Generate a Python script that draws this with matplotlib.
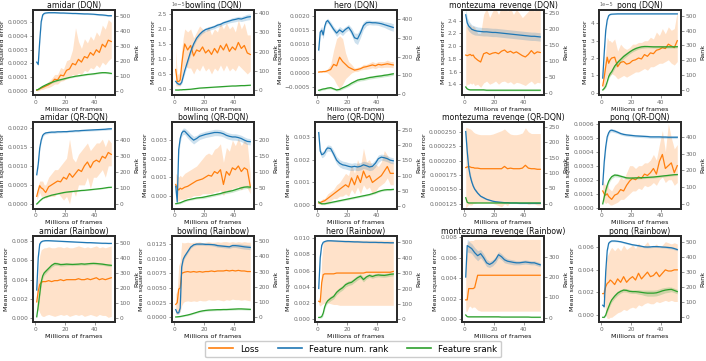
import numpy as np
import matplotlib
matplotlib.use("Agg")
import matplotlib.pyplot as plt
from matplotlib.lines import Line2D

# ---------------- data ----------------
X = [1, 2, 3, 4, 5, 6, 7, 9, 11, 13, 15, 17, 19, 21, 23, 25, 27, 29, 31, 33, 35, 37, 39, 41, 43, 45, 47, 49, 51]

titles = ["amidar (DQN)", "bowling (DQN)", "hero (DQN)", "montezuma_revenge (DQN)", "pong (DQN)",
          "amidar (QR-DQN)", "bowling (QR-DQN)", "hero (QR-DQN)", "montezuma_revenge (QR-DQN)", "pong (QR-DQN)",
          "amidar (Rainbow)", "bowling (Rainbow)", "hero (Rainbow)", "montezuma_revenge (Rainbow)", "pong (Rainbow)"]

# ---- DQN ----
amidar_dqn_loss = np.array([0.05, 0.1, 0.15, 0.2, 0.25, 0.3, 0.35, 0.45, 0.6, 0.85, 0.8, 1.15, 1.1, 1.5, 1.6, 2.0, 1.9, 2.3, 2.1, 2.5, 2.4, 2.8, 2.6, 3.0, 2.8, 3.4, 3.2, 3.7, 3.6]) * 1e-4
amidar_dqn_lo = np.array([0.0, 0.0, 0.05, 0.1, 0.1, 0.15, 0.2, 0.25, 0.35, 0.5, 0.5, 0.7, 0.75, 0.9, 1.0, 1.2, 1.1, 1.3, 1.2, 1.5, 1.4, 1.7, 1.6, 1.9, 1.7, 2.1, 1.9, 2.2, 2.4]) * 1e-4
amidar_dqn_hi = np.array([0.1, 0.2, 0.25, 0.3, 0.4, 0.45, 0.5, 0.7, 0.9, 1.2, 1.2, 1.7, 1.6, 2.2, 2.3, 3.0, 4.6, 3.6, 3.1, 3.8, 3.5, 4.0, 3.7, 4.3, 4.0, 4.8, 4.5, 5.2, 5.0]) * 1e-4
amidar_dqn_rank = [190, 175, 330, 460, 505, 515, 518, 520, 520, 520, 519, 518, 518, 517, 516, 515, 515, 514, 513, 512, 512, 511, 510, 508, 506, 505, 503, 500, 500]
amidar_dqn_rank_sd = [10, 10, 20, 15, 8, 5, 4, 4, 4, 4, 4, 4, 4, 4, 4, 4, 4, 4, 4, 4, 4, 4, 4, 5, 5, 5, 5, 5, 5]
amidar_dqn_srank = [5, 8, 15, 22, 28, 33, 38, 47, 55, 62, 68, 73, 78, 83, 88, 92, 96, 99, 102, 105, 108, 110, 112, 115, 118, 120, 120, 118, 115]
amidar_dqn_srank_sd = [2, 2, 3, 3, 4, 4, 4, 5, 5, 5, 5, 5, 5, 5, 5, 5, 5, 5, 5, 5, 5, 5, 5, 5, 5, 5, 5, 5, 5]

bowling_dqn_loss = np.array([0.65, 0.25, 0.25, 0.3, 0.8, 1.2, 1.5, 1.3, 1.45, 1.1, 1.3, 1.25, 1.4, 1.2, 1.3, 1.15, 1.35, 1.2, 1.45, 1.3, 1.5, 1.25, 1.4, 1.3, 1.55, 1.35, 1.45, 1.2, 1.15]) * 1e-5
bowling_dqn_lo = np.array([0.1, 0.1, 0.1, 0.1, 0.3, 0.6, 0.8, 0.7, 0.7, 0.5, 0.7, 0.6, 0.8, 0.6, 0.7, 0.5, 0.7, 0.6, 0.8, 0.6, 0.8, 0.6, 0.7, 0.6, 0.8, 0.7, 0.6, 0.5, 0.6]) * 1e-5
bowling_dqn_hi = np.array([1.3, 0.5, 0.5, 0.6, 1.3, 1.7, 2.0, 1.9, 2.0, 1.7, 1.9, 2.1, 2.0, 1.9, 2.1, 1.8, 2.0, 1.9, 2.2, 2.0, 2.2, 2.0, 2.1, 1.9, 2.3, 2.0, 2.2, 1.8, 1.8]) * 1e-5
bowling_dqn_rank = [45, 35, 30, 30, 40, 70, 100, 150, 200, 240, 270, 290, 305, 315, 320, 325, 330, 338, 342, 350, 355, 360, 365, 368, 372, 370, 375, 380, 382]
bowling_dqn_rank_sd = [8, 6, 6, 6, 8, 12, 15, 15, 14, 12, 10, 10, 10, 10, 10, 10, 10, 10, 10, 10, 10, 10, 12, 12, 12, 13, 14, 15, 15]
bowling_dqn_srank = [0, 0, 0, 1, 1, 2, 2, 3, 4, 6, 8, 10, 11, 12, 13, 14, 15, 16, 17, 18, 19, 20, 21, 21, 22, 23, 23, 24, 25]
bowling_dqn_srank_sd = [2, 2, 2, 2, 2, 2, 2, 2, 2, 2, 2, 2, 2, 2, 2, 2, 2, 2, 2, 2, 2, 2, 2, 2, 2, 2, 2, 2, 2]

hero_dqn_loss = np.array([0.3, 0.4, 0.4, 0.5, 0.5, 0.6, 0.8, 1.2, 3.0, 2.5, 5.5, 4.0, 3.0, 2.0, 1.5, 1.0, 1.2, 1.5, 2.0, 2.2, 2.5, 2.8, 2.5, 3.0, 2.8, 3.0, 3.2, 3.0, 2.8]) * 1e-4
hero_dqn_lo = np.array([0.2, 0.2, 0.2, 0.3, 0.2, 0.2, 0.0, -1.0, -2.0, -4.0, -5.5, -4.0, -2.0, -1.0, 0.0, 0.5, 0.5, 1.0, 1.2, 1.3, 1.5, 1.8, 1.5, 2.0, 1.8, 2.0, 2.0, 2.0, 1.8]) * 1e-4
hero_dqn_hi = np.array([0.4, 0.6, 0.6, 0.7, 0.8, 1.0, 1.5, 3.0, 8.0, 12.0, 13.0, 12.0, 7.0, 4.0, 3.0, 1.7, 2.0, 2.2, 3.0, 3.0, 3.5, 4.0, 3.5, 4.0, 4.0, 4.0, 4.5, 4.0, 4.0]) * 1e-4
hero_dqn_rank = [235, 330, 340, 315, 360, 385, 392, 370, 345, 325, 342, 330, 345, 356, 333, 300, 294, 326, 365, 380, 382, 380, 380, 378, 375, 370, 365, 360, 355]
hero_dqn_rank_sd = [20, 20, 20, 20, 15, 12, 12, 15, 15, 18, 18, 18, 15, 15, 20, 25, 30, 25, 20, 15, 12, 12, 12, 12, 15, 15, 18, 20, 20]
hero_dqn_srank = [20, 22, 25, 27, 28, 30, 32, 34, 28, 22, 25, 33, 40, 48, 58, 66, 74, 78, 80, 84, 88, 90, 93, 95, 97, 100, 102, 105, 108]
hero_dqn_srank_sd = [5, 5, 5, 5, 5, 5, 5, 6, 6, 6, 6, 7, 7, 8, 8, 8, 8, 8, 8, 8, 8, 8, 8, 8, 8, 8, 8, 8, 8]

montezuma_dqn_loss = [1.86, 1.85, 1.86, 1.87, 1.85, 1.86, 1.82, 1.78, 1.75, 1.88, 1.9, 1.87, 1.89, 1.9, 1.88, 1.92, 1.94, 1.9, 1.92, 1.89, 1.91, 1.88, 1.85, 1.83, 1.87, 1.93, 1.88, 1.91, 1.9]
montezuma_dqn_lo = [1.35, 1.4, 1.4, 1.42, 1.4, 1.42, 1.38, 1.4, 1.35, 1.42, 1.45, 1.4, 1.42, 1.45, 1.4, 1.44, 1.45, 1.42, 1.44, 1.4, 1.43, 1.42, 1.4, 1.38, 1.42, 1.45, 1.4, 1.43, 1.42]
montezuma_dqn_hi = [2.35, 2.3, 2.32, 2.35, 2.3, 2.32, 2.3, 2.2, 2.2, 2.5, 2.6, 2.45, 2.55, 2.6, 2.5, 2.62, 2.65, 2.55, 2.6, 2.5, 2.58, 2.52, 2.45, 2.5, 2.55, 2.65, 2.55, 2.6, 2.58]
montezuma_dqn_rank = [245, 220, 210, 205, 200, 198, 196, 194, 193, 192, 192, 191, 190, 190, 189, 188, 187, 186, 185, 184, 183, 182, 181, 180, 179, 178, 178, 177, 176]
montezuma_dqn_rank_sd = [20, 18, 16, 15, 14, 14, 14, 13, 13, 13, 13, 13, 13, 13, 13, 13, 13, 13, 13, 13, 13, 13, 13, 13, 13, 13, 13, 13, 13]
montezuma_dqn_srank = [20, 14, 12, 11, 11, 11, 11, 11, 11, 11, 10, 10, 10, 10, 10, 10, 10, 10, 10, 10, 10, 10, 10, 10, 10, 10, 10, 10, 10]
montezuma_dqn_srank_sd = [3, 2, 2, 2, 2, 2, 2, 2, 2, 2, 2, 2, 2, 2, 2, 2, 2, 2, 2, 2, 2, 2, 2, 2, 2, 2, 2, 2, 2]

pong_dqn_loss = np.array([0.4, 0.9, 1.5, 2.05, 1.7, 1.9, 2.0, 2.05, 1.5, 1.75, 1.8, 1.65, 1.7, 1.85, 1.9, 2.0, 1.95, 2.2, 2.1, 2.3, 2.25, 2.45, 2.5, 2.6, 2.55, 2.8, 2.7, 2.6, 3.0]) * 1e-5
pong_dqn_lo = np.array([0.1, 0.3, 0.7, 1.0, 0.9, 1.0, 1.1, 1.0, 0.8, 0.9, 1.0, 0.9, 1.0, 1.1, 1.2, 1.2, 1.3, 1.4, 1.3, 1.5, 1.5, 1.6, 1.7, 1.7, 1.8, 1.9, 1.7, 1.6, 1.8]) * 1e-5
pong_dqn_hi = np.array([0.8, 1.6, 2.3, 3.2, 3.0, 3.0, 2.9, 3.1, 2.4, 2.8, 2.6, 2.5, 2.6, 2.8, 2.8, 2.9, 2.9, 3.0, 3.0, 3.2, 3.1, 3.5, 3.3, 3.7, 3.4, 3.8, 3.6, 3.7, 4.7]) * 1e-5
pong_dqn_rank = [80, 250, 400, 470, 500, 508, 510, 511, 512, 512, 512, 512, 512, 512, 512, 512, 512, 512, 512, 512, 512, 512, 512, 512, 512, 512, 512, 512, 512]
pong_dqn_rank_sd = [10, 20, 15, 8, 5, 4, 3, 3, 3, 3, 3, 3, 3, 3, 3, 3, 3, 3, 3, 3, 3, 3, 3, 3, 3, 3, 3, 3, 3]
pong_dqn_srank = [0, 10, 25, 55, 90, 110, 123, 160, 185, 205, 225, 240, 255, 268, 278, 285, 290, 292, 292, 291, 290, 290, 290, 290, 290, 290, 290, 290, 291]
pong_dqn_srank_sd = [3, 5, 10, 12, 15, 15, 15, 15, 15, 15, 15, 14, 12, 12, 12, 10, 10, 10, 8, 8, 8, 8, 8, 8, 8, 8, 8, 8, 8]

# ---- QR-DQN ----
amidar_qr_loss = [0.0002, 0.00035, 0.00048, 0.00042, 0.0004, 0.00035, 0.0003, 0.00045, 0.0005, 0.00055, 0.0006, 0.00058, 0.0007, 0.00065, 0.0008, 0.0007, 0.0008, 0.0009, 0.00085, 0.001, 0.0011, 0.00095, 0.0011, 0.00115, 0.0011, 0.00125, 0.0012, 0.00135, 0.0013]
amidar_qr_lo = [0.0001, 0.0002, 0.0003, 0.0002, 0.0002, 0.0002, 0.00015, 0.0002, 0.0002, 0.0002, 0.0003, 0.0002, 0.0001, 0.0002, 0.0, 0.0004, 0.0002, 0.0005, 0.0005, 0.0005, 0.0007, 0.0004, 0.0007, 0.0007, 0.0008, 0.0009, 0.0007, 0.001, 0.001]
amidar_qr_hi = [0.0003, 0.0005, 0.0006, 0.0006, 0.0006, 0.0005, 0.0005, 0.0007, 0.0008, 0.0009, 0.0009, 0.001, 0.0011, 0.0012, 0.0017, 0.0012, 0.0011, 0.0013, 0.0014, 0.0015, 0.0016, 0.0014, 0.0015, 0.0016, 0.0016, 0.0017, 0.0015, 0.0017, 0.0016]
amidar_qr_rank = [185, 250, 350, 400, 430, 440, 445, 448, 450, 450, 452, 452, 453, 453, 455, 456, 458, 458, 460, 461, 462, 463, 464, 465, 466, 467, 468, 470, 471]
amidar_qr_rank_sd = [10, 15, 15, 12, 10, 8, 8, 7, 7, 7, 6, 6, 6, 6, 6, 6, 6, 6, 6, 6, 6, 6, 6, 6, 6, 6, 6, 6, 6]
amidar_qr_srank = [3, 12, 22, 30, 38, 42, 46, 52, 58, 62, 66, 70, 74, 77, 79, 81, 83, 85, 87, 88, 90, 92, 94, 96, 98, 100, 103, 106, 107]
amidar_qr_srank_sd = [3, 3, 3, 3, 3, 3, 3, 3, 3, 3, 3, 3, 3, 3, 3, 3, 3, 3, 3, 3, 3, 3, 3, 3, 3, 3, 3, 3, 3]

bowling_qr_loss = [0.0006, 0.0004, 0.0003, 0.0004, 0.00035, 0.0004, 0.00045, 0.0005, 0.0006, 0.0007, 0.0008, 0.00085, 0.0009, 0.001, 0.0011, 0.00105, 0.0013, 0.0012, 0.0014, 0.0006, 0.0013, 0.0011, 0.0015, 0.0014, 0.0016, 0.0013, 0.0015, 0.0014, 0.0005]
bowling_qr_lo = [0.0, -0.0003, -0.0003, -0.0002, -0.0002, -0.0002, -0.0002, -0.0001, -0.0001, 0.0, 0.0, 0.0, 0.0001, 0.0001, 0.0001, 0.0001, 0.0002, 0.0002, 0.0003, 0.0, 0.0003, 0.0002, 0.0004, 0.0004, 0.0005, 0.0003, 0.0005, 0.0004, 0.0001]
bowling_qr_hi = [0.0012, 0.0011, 0.001, 0.0011, 0.001, 0.0011, 0.0012, 0.0013, 0.0014, 0.0015, 0.0016, 0.0018, 0.002, 0.0022, 0.0023, 0.0022, 0.0025, 0.0026, 0.0028, 0.0018, 0.0026, 0.0024, 0.003, 0.0027, 0.0031, 0.0027, 0.003, 0.0028, 0.0012]
bowling_qr_rank = [55, 5, 170, 205, 222, 228, 228, 218, 208, 200, 205, 212, 215, 218, 220, 222, 224, 224, 223, 220, 215, 212, 210, 210, 208, 205, 200, 196, 195]
bowling_qr_rank_sd = [10, 5, 15, 12, 10, 10, 10, 12, 12, 12, 10, 10, 10, 10, 10, 10, 10, 10, 10, 10, 10, 10, 10, 10, 10, 10, 10, 10, 10]
bowling_qr_srank = [0, 1, 2, 3, 5, 7, 9, 12, 14, 16, 18, 19, 20, 22, 24, 26, 28, 30, 32, 35, 37, 39, 41, 44, 47, 50, 52, 53, 52]
bowling_qr_srank_sd = [3, 3, 3, 3, 3, 3, 3, 3, 3, 3, 3, 3, 4, 4, 4, 4, 4, 4, 4, 4, 5, 5, 5, 5, 5, 5, 5, 5, 5]

hero_qr_loss = [0.0001, 0.00012, 0.00015, 0.00018, 0.0002, 0.00025, 0.0003, 0.0004, 0.0005, 0.0006, 0.0007, 0.0008, 0.0009, 0.0008, 0.0012, 0.0009, 0.0013, 0.001, 0.0015, 0.0012, 0.0013, 0.001, 0.0011, 0.0012, 0.0013, 0.0015, 0.0017, 0.0014, 0.0014]
hero_qr_lo = [0.00005, 0.00005, 0.00005, 0.0001, 0.0001, 0.0001, 0.0001, 0.0002, 0.0003, 0.0003, 0.0004, 0.0004, 0.0005, 0.0004, 0.0007, 0.0005, 0.0008, 0.0005, 0.0009, 0.0007, 0.0008, 0.0005, 0.0006, 0.0008, 0.0009, 0.001, 0.0012, 0.0009, 0.0009]
hero_qr_hi = [0.00015, 0.0002, 0.00025, 0.0003, 0.0003, 0.0004, 0.0005, 0.0006, 0.0007, 0.0009, 0.001, 0.0012, 0.0014, 0.0013, 0.0018, 0.0014, 0.002, 0.0017, 0.0025, 0.0019, 0.002, 0.0017, 0.0018, 0.0017, 0.0019, 0.0024, 0.0022, 0.0019, 0.0019]
hero_qr_rank = [240, 180, 168, 170, 175, 185, 190, 188, 170, 150, 140, 135, 133, 130, 128, 130, 128, 130, 135, 132, 128, 130, 140, 155, 160, 158, 155, 150, 148]
hero_qr_rank_sd = [10, 10, 10, 10, 10, 10, 10, 10, 12, 12, 12, 12, 12, 12, 12, 12, 12, 12, 12, 12, 12, 12, 12, 12, 10, 10, 10, 10, 10]
hero_qr_srank = [14, 10, 8, 8, 8, 9, 10, 12, 14, 16, 18, 20, 22, 24, 26, 28, 30, 32, 34, 36, 38, 41, 44, 48, 51, 53, 54, 54, 55]
hero_qr_srank_sd = [3, 3, 3, 3, 3, 3, 3, 3, 3, 3, 3, 3, 3, 3, 3, 3, 3, 3, 3, 3, 3, 3, 3, 3, 3, 3, 3, 3, 3]

montezuma_qr_loss = [0.000188, 0.000189, 0.00019, 0.000189, 0.000188, 0.000188, 0.000187, 0.000187, 0.000186, 0.000186, 0.000186, 0.000186, 0.000186, 0.000186, 0.000186, 0.000186, 0.00019, 0.000186, 0.000187, 0.000186, 0.000186, 0.000186, 0.000187, 0.000192, 0.000187, 0.000186, 0.000186, 0.000185, 0.000185]
montezuma_qr_lo = [0.000118, 0.000121, 0.000124, 0.000123, 0.000123, 0.000126, 0.000126, 0.000128, 0.000127, 0.000127, 0.000127, 0.000127, 0.000126, 0.000124, 0.000122, 0.00012, 0.000125, 0.000122, 0.000128, 0.000127, 0.000127, 0.000126, 0.000126, 0.000127, 0.000124, 0.000125, 0.000125, 0.000123, 0.000123]
montezuma_qr_hi = [0.000258, 0.000257, 0.000256, 0.000255, 0.000253, 0.00025, 0.000248, 0.000246, 0.000245, 0.000245, 0.000245, 0.000245, 0.000246, 0.000248, 0.00025, 0.000252, 0.000255, 0.00025, 0.000246, 0.000245, 0.000245, 0.000246, 0.000248, 0.000257, 0.00025, 0.000247, 0.000247, 0.000247, 0.000247]
montezuma_qr_rank = [235, 170, 118, 90, 72, 58, 48, 35, 25, 20, 15, 12, 9, 7, 6, 5, 4, 4, 3, 3, 3, 2, 2, 2, 2, 2, 2, 2, 2]
montezuma_qr_rank_sd = [15, 15, 12, 10, 8, 6, 5, 4, 3, 3, 2, 2, 2, 2, 2, 2, 2, 2, 2, 2, 2, 2, 2, 2, 2, 2, 2, 2, 2]
montezuma_qr_srank = [20, 5, 3, 3, 3, 3, 3, 3, 3, 3, 3, 3, 3, 3, 3, 3, 3, 3, 3, 3, 3, 3, 3, 3, 3, 3, 3, 3, 3]
montezuma_qr_srank_sd = [5, 2, 1, 1, 1, 1, 1, 1, 1, 1, 1, 1, 1, 1, 1, 1, 1, 1, 1, 1, 1, 1, 1, 1, 1, 1, 1, 1, 1]

pong_qr_loss = [0.00012, 0.0001, 0.00009, 0.0001, 0.00008, 0.00007, 0.00006, 0.00009, 0.0001, 0.00013, 0.00012, 0.00016, 0.00019, 0.00021, 0.0002, 0.00022, 0.00021, 0.00024, 0.00023, 0.00025, 0.00028, 0.00024, 0.00033, 0.00038, 0.00028, 0.0003, 0.00032, 0.00025, 0.0003]
pong_qr_lo = [0.00005, 0.00004, 0.00003, 0.00004, 0.00003, 0.00002, 0.00002, 0.00003, 0.00004, 0.00006, 0.00006, 0.00008, 0.0001, 0.00012, 0.00012, 0.00014, 0.00013, 0.00016, 0.00015, 0.00016, 0.00018, 0.00016, 0.0002, 0.00022, 0.00018, 0.0002, 0.0002, 0.00016, 0.00018]
pong_qr_hi = [0.0002, 0.00017, 0.00016, 0.00017, 0.00014, 0.00013, 0.00012, 0.00016, 0.00018, 0.00022, 0.0002, 0.00025, 0.0003, 0.0003, 0.00028, 0.0003, 0.0003, 0.00032, 0.00032, 0.00034, 0.00038, 0.00034, 0.00045, 0.00055, 0.0004, 0.0006, 0.0005, 0.00042, 0.00045]
pong_qr_rank = [115, 250, 340, 400, 425, 438, 440, 435, 428, 420, 415, 412, 410, 408, 406, 405, 404, 403, 402, 400, 400, 400, 400, 399, 399, 398, 398, 398, 398]
pong_qr_rank_sd = [15, 20, 20, 15, 12, 10, 10, 10, 8, 8, 8, 8, 8, 8, 8, 8, 8, 8, 8, 8, 8, 8, 8, 8, 8, 8, 8, 8, 8]
pong_qr_srank = [0, 40, 80, 110, 135, 150, 162, 172, 170, 165, 160, 155, 154, 154, 155, 155, 156, 157, 158, 159, 160, 162, 164, 166, 168, 170, 172, 174, 175]
pong_qr_srank_sd = [3, 10, 15, 15, 15, 12, 12, 10, 10, 8, 8, 6, 6, 6, 6, 6, 6, 6, 6, 6, 6, 6, 6, 6, 6, 6, 6, 6, 6]

# ---- Rainbow ----
amidar_rb_loss = [0.0017, 0.0028, 0.0035, 0.0037, 0.0038, 0.0038, 0.0038, 0.0039, 0.0038, 0.0039, 0.0039, 0.004, 0.0039, 0.004, 0.004, 0.004, 0.004, 0.0041, 0.004, 0.004, 0.0041, 0.004, 0.0041, 0.0042, 0.004, 0.0041, 0.004, 0.0041, 0.0042]
amidar_rb_lo = [0.0005, 0.001, 0.0006, 0.0003, 0.0002, 0.0002, 0.0003, 0.0004, 0.0003, 0.0002, 0.0003, 0.0004, 0.0003, 0.0004, 0.0002, 0.0003, 0.0004, 0.0003, 0.0004, 0.0002, 0.0003, 0.0004, 0.0003, 0.0002, 0.0004, 0.0003, 0.0003, 0.0001, 0.0002]
amidar_rb_hi = [0.003, 0.0046, 0.0065, 0.0071, 0.0072, 0.0073, 0.0073, 0.0074, 0.0073, 0.0073, 0.0074, 0.0074, 0.0073, 0.0074, 0.0073, 0.0073, 0.0074, 0.0075, 0.0074, 0.0073, 0.0074, 0.0073, 0.0074, 0.0075, 0.0073, 0.0074, 0.0073, 0.0074, 0.0075]
amidar_rb_rank = [187, 400, 490, 505, 510, 512, 513, 513, 512, 511, 510, 509, 508, 507, 506, 505, 504, 503, 502, 501, 500, 500, 499, 498, 497, 496, 496, 495, 495]
amidar_rb_rank_sd = [15, 20, 8, 4, 3, 3, 3, 3, 3, 3, 3, 3, 3, 3, 3, 3, 3, 3, 3, 3, 3, 3, 3, 3, 3, 3, 3, 3, 3]
amidar_rb_srank = [10, 80, 160, 240, 280, 300, 310, 330, 350, 362, 360, 355, 356, 358, 357, 356, 357, 358, 360, 358, 360, 362, 363, 362, 360, 358, 355, 352, 350]
amidar_rb_srank_sd = [5, 20, 20, 20, 18, 15, 15, 12, 12, 12, 10, 10, 10, 10, 8, 8, 8, 8, 8, 8, 8, 8, 8, 8, 8, 8, 8, 8, 8]

bowling_rb_loss = [0.0022, 0.0025, 0.0048, 0.005, 0.0075, 0.0076, 0.0077, 0.0078, 0.0077, 0.0078, 0.0077, 0.0078, 0.0077, 0.0078, 0.0078, 0.0079, 0.0078, 0.0079, 0.0079, 0.0079, 0.008, 0.0079, 0.008, 0.0079, 0.008, 0.0079, 0.0079, 0.0078, 0.0078]
bowling_rb_lo = [0.0005, 0.0005, 0.0008, 0.001, 0.002, 0.0025, 0.0027, 0.0028, 0.0027, 0.0028, 0.0027, 0.0029, 0.0028, 0.0028, 0.003, 0.0029, 0.0029, 0.003, 0.0029, 0.0028, 0.003, 0.0029, 0.0031, 0.003, 0.003, 0.0029, 0.003, 0.0029, 0.0028]
bowling_rb_hi = [0.004, 0.0045, 0.0088, 0.0095, 0.0128, 0.0127, 0.0127, 0.0128, 0.0127, 0.0128, 0.0128, 0.0129, 0.0127, 0.0128, 0.0129, 0.0128, 0.0128, 0.0129, 0.0128, 0.0129, 0.0129, 0.0128, 0.0129, 0.0128, 0.0129, 0.0128, 0.0129, 0.0128, 0.0128]
bowling_rb_rank = [50, 28, 30, 60, 330, 380, 400, 430, 460, 475, 480, 480, 480, 478, 478, 477, 475, 470, 468, 466, 464, 462, 470, 470, 468, 465, 462, 460, 458]
bowling_rb_rank_sd = [10, 8, 10, 20, 20, 15, 12, 10, 8, 8, 8, 8, 8, 8, 8, 8, 10, 10, 10, 10, 10, 10, 12, 12, 14, 15, 15, 15, 15]
bowling_rb_srank = [2, 3, 4, 5, 7, 9, 11, 15, 20, 26, 32, 38, 42, 45, 47, 48, 49, 50, 50, 51, 51, 52, 53, 54, 55, 55, 54, 53, 52]
bowling_rb_srank_sd = [3, 3, 3, 3, 4, 4, 4, 5, 5, 5, 5, 6, 6, 6, 6, 6, 6, 6, 6, 6, 6, 6, 6, 6, 6, 6, 6, 6, 6]

hero_rb_loss = [0.0022, 0.0021, 0.0045, 0.0055, 0.0056, 0.0056, 0.0056, 0.0056, 0.0056, 0.0057, 0.0057, 0.0057, 0.0057, 0.0057, 0.0057, 0.0057, 0.0057, 0.0057, 0.0057, 0.0058, 0.0058, 0.0058, 0.0058, 0.0058, 0.0058, 0.0058, 0.0058, 0.0058, 0.0059]
hero_rb_lo = [0.0018, 0.0016, 0.0018, 0.0019, 0.002, 0.002, 0.002, 0.0019, 0.0018, 0.0018, 0.0017, 0.0017, 0.0017, 0.0017, 0.0017, 0.0017, 0.0017, 0.0017, 0.0017, 0.0017, 0.0017, 0.0017, 0.0017, 0.0017, 0.0017, 0.0017, 0.0017, 0.0017, 0.0017]
hero_rb_hi = [0.0026, 0.0026, 0.0075, 0.0095, 0.0097, 0.0098, 0.0098, 0.0098, 0.0098, 0.0098, 0.0098, 0.0098, 0.0098, 0.0098, 0.0098, 0.0098, 0.0098, 0.0098, 0.0098, 0.0098, 0.0098, 0.0098, 0.0098, 0.0098, 0.0098, 0.0098, 0.0098, 0.0098, 0.0098]
hero_rb_rank = [200, 400, 480, 500, 505, 508, 510, 510, 509, 508, 507, 506, 505, 505, 504, 503, 503, 502, 501, 501, 500, 500, 500, 499, 499, 498, 498, 497, 497]
hero_rb_rank_sd = [10, 20, 10, 5, 4, 4, 4, 4, 4, 4, 4, 4, 4, 4, 4, 4, 4, 4, 4, 4, 4, 4, 4, 4, 4, 4, 4, 4, 4]
hero_rb_srank = [12, 13, 18, 40, 80, 105, 120, 136, 148, 175, 192, 205, 225, 235, 240, 255, 270, 280, 258, 275, 285, 278, 285, 288, 286, 285, 288, 292, 294]
hero_rb_srank_sd = [5, 5, 8, 15, 15, 15, 15, 15, 15, 15, 15, 15, 15, 15, 15, 15, 15, 15, 15, 12, 12, 12, 12, 12, 12, 12, 12, 12, 12]

montezuma_rb_loss = [0.0019, 0.0019, 0.003, 0.003, 0.003, 0.003, 0.0031, 0.0043, 0.0043, 0.0043, 0.0043, 0.0043, 0.0043, 0.0043, 0.0043, 0.0043, 0.0043, 0.0043, 0.0043, 0.0043, 0.0043, 0.0043, 0.0043, 0.0043, 0.0043, 0.0043, 0.0043, 0.0043, 0.0043]
montezuma_rb_lo = [0.0008, 0.0008, 0.0012, 0.0013, 0.0011, 0.0012, 0.0012, 0.0009, 0.0008, 0.0008, 0.0008, 0.0008, 0.0008, 0.0008, 0.0008, 0.0008, 0.0008, 0.0008, 0.0008, 0.0008, 0.0008, 0.0008, 0.0008, 0.0008, 0.0008, 0.0008, 0.0008, 0.0008, 0.0008]
montezuma_rb_hi = [0.004, 0.0075, 0.0076, 0.0077, 0.0077, 0.0077, 0.0078, 0.0078, 0.0078, 0.0078, 0.0078, 0.0078, 0.0078, 0.0078, 0.0078, 0.0078, 0.0078, 0.0078, 0.0078, 0.0078, 0.0078, 0.0078, 0.0078, 0.0078, 0.0078, 0.0078, 0.0078, 0.0078, 0.0078]
montezuma_rb_rank = [200, 355, 350, 345, 340, 330, 320, 305, 315, 295, 270, 262, 270, 285, 310, 300, 285, 278, 275, 272, 270, 270, 272, 274, 272, 270, 270, 265, 260]
montezuma_rb_rank_sd = [20, 30, 30, 25, 25, 25, 25, 25, 20, 20, 18, 15, 15, 15, 15, 15, 15, 12, 12, 12, 10, 10, 10, 10, 10, 10, 10, 10, 10]
montezuma_rb_srank = [13, 5, 4, 4, 4, 4, 4, 4, 4, 4, 4, 4, 4, 4, 4, 3, 3, 3, 3, 3, 3, 3, 3, 3, 3, 2, 2, 2, 2]
montezuma_rb_srank_sd = [3, 2, 2, 2, 2, 2, 2, 2, 2, 2, 2, 2, 2, 2, 2, 2, 2, 2, 2, 2, 2, 2, 2, 2, 2, 2, 2, 2, 2]

pong_rb_loss = [0.0019, 0.0019, 0.0025, 0.0028, 0.0029, 0.0031, 0.003, 0.0027, 0.0032, 0.0029, 0.0034, 0.0029, 0.0032, 0.0034, 0.0031, 0.0037, 0.0032, 0.0035, 0.0038, 0.0034, 0.0035, 0.0038, 0.0034, 0.0037, 0.004, 0.0039, 0.0039, 0.004, 0.004]
pong_rb_lo = [0.0016, 0.0016, 0.0, -0.0003, -0.0003, -0.0002, -0.0002, 0.0, 0.0002, 0.0003, 0.0005, 0.0004, 0.0006, 0.0007, 0.0006, 0.0009, 0.0008, 0.001, 0.0011, 0.001, 0.001, 0.0012, 0.0011, 0.0012, 0.0013, 0.0012, 0.0013, 0.0012, 0.0012]
pong_rb_hi = [0.0022, 0.0023, 0.0045, 0.0052, 0.0055, 0.0058, 0.006, 0.0057, 0.006, 0.0057, 0.0062, 0.0058, 0.006, 0.0062, 0.0059, 0.0064, 0.006, 0.0062, 0.0065, 0.006, 0.0061, 0.0063, 0.006, 0.0062, 0.0065, 0.0064, 0.0063, 0.0064, 0.0063]
pong_rb_rank = [80, 70, 300, 440, 490, 500, 505, 505, 503, 500, 495, 490, 485, 480, 477, 474, 470, 466, 465, 466, 468, 468, 467, 465, 464, 462, 460, 455, 448]
pong_rb_rank_sd = [10, 10, 15, 10, 6, 5, 5, 5, 5, 5, 6, 6, 6, 6, 6, 6, 6, 6, 6, 6, 6, 6, 6, 6, 6, 8, 8, 8, 8]
pong_rb_srank = [0, 0, 15, 45, 70, 95, 115, 140, 160, 172, 180, 178, 172, 170, 170, 168, 165, 162, 160, 160, 160, 162, 168, 175, 180, 183, 185, 178, 170]
pong_rb_srank_sd = [3, 3, 8, 12, 15, 15, 15, 15, 15, 12, 12, 12, 12, 12, 12, 15, 15, 18, 20, 20, 20, 20, 20, 20, 18, 18, 15, 15, 15]

legend_labels = ["Loss", "Feature num. rank", "Feature srank"]

# ---------------- style / layout ----------------
ORANGE = "#ff7f0e"
BLUE = "#1f77b4"
GREEN = "#2ca02c"
SPINE = "#2b2b2b"
TICKC = "#6a6a6a"

plt.rcParams.update({
    "font.family": ["DejaVu Sans"],
    "axes.formatter.use_mathtext": False,
})

series = [
    (amidar_dqn_loss, amidar_dqn_lo, amidar_dqn_hi, amidar_dqn_rank, amidar_dqn_rank_sd, amidar_dqn_srank, amidar_dqn_srank_sd),
    (bowling_dqn_loss, bowling_dqn_lo, bowling_dqn_hi, bowling_dqn_rank, bowling_dqn_rank_sd, bowling_dqn_srank, bowling_dqn_srank_sd),
    (hero_dqn_loss, hero_dqn_lo, hero_dqn_hi, hero_dqn_rank, hero_dqn_rank_sd, hero_dqn_srank, hero_dqn_srank_sd),
    (montezuma_dqn_loss, montezuma_dqn_lo, montezuma_dqn_hi, montezuma_dqn_rank, montezuma_dqn_rank_sd, montezuma_dqn_srank, montezuma_dqn_srank_sd),
    (pong_dqn_loss, pong_dqn_lo, pong_dqn_hi, pong_dqn_rank, pong_dqn_rank_sd, pong_dqn_srank, pong_dqn_srank_sd),
    (amidar_qr_loss, amidar_qr_lo, amidar_qr_hi, amidar_qr_rank, amidar_qr_rank_sd, amidar_qr_srank, amidar_qr_srank_sd),
    (bowling_qr_loss, bowling_qr_lo, bowling_qr_hi, bowling_qr_rank, bowling_qr_rank_sd, bowling_qr_srank, bowling_qr_srank_sd),
    (hero_qr_loss, hero_qr_lo, hero_qr_hi, hero_qr_rank, hero_qr_rank_sd, hero_qr_srank, hero_qr_srank_sd),
    (montezuma_qr_loss, montezuma_qr_lo, montezuma_qr_hi, montezuma_qr_rank, montezuma_qr_rank_sd, montezuma_qr_srank, montezuma_qr_srank_sd),
    (pong_qr_loss, pong_qr_lo, pong_qr_hi, pong_qr_rank, pong_qr_rank_sd, pong_qr_srank, pong_qr_srank_sd),
    (amidar_rb_loss, amidar_rb_lo, amidar_rb_hi, amidar_rb_rank, amidar_rb_rank_sd, amidar_rb_srank, amidar_rb_srank_sd),
    (bowling_rb_loss, bowling_rb_lo, bowling_rb_hi, bowling_rb_rank, bowling_rb_rank_sd, bowling_rb_srank, bowling_rb_srank_sd),
    (hero_rb_loss, hero_rb_lo, hero_rb_hi, hero_rb_rank, hero_rb_rank_sd, hero_rb_srank, hero_rb_srank_sd),
    (montezuma_rb_loss, montezuma_rb_lo, montezuma_rb_hi, montezuma_rb_rank, montezuma_rb_rank_sd, montezuma_rb_srank, montezuma_rb_srank_sd),
    (pong_rb_loss, pong_rb_lo, pong_rb_hi, pong_rb_rank, pong_rb_rank_sd, pong_rb_srank, pong_rb_srank_sd),
]

# axis ranges and ticks (left: (ylim, tick start, tick stop, step); right: (ylim, stop, step))
left_cfg = [
    ((-0.00003, 0.00059), 0, 0.0005, 0.0001),
    ((-0.2e-5, 2.63e-5), 0, 2.5e-5, 0.5e-5),
    ((-0.00077, 0.0022), -0.0005, 0.002, 0.0005),
    ((1.23, 2.57), 1.4, 2.4, 0.2),
    ((-0.13e-5, 4.77e-5), 0, 4e-5, 1e-5),
    ((-0.00012, 0.00215), 0, 0.002, 0.0005),
    ((-0.0007, 0.00398), 0, 0.003, 0.001),
    ((-0.00014, 0.00365), 0, 0.003, 0.001),
    ((0.000117, 0.000267), 0.000125, 0.00025, 0.000025),
    ((-0.000005, 0.000611), 0, 0.0006, 0.0001),
    ((-0.00035, 0.00852), 0, 0.008, 0.002),
    ((-0.00075, 0.01386), 0, 0.0125, 0.0025),
    ((-0.00033, 0.01029), 0, 0.01, 0.002),
    ((-0.00023, 0.00813), 0, 0.008, 0.002),
    ((-0.00059, 0.007), 0, 0.006, 0.002),
]
right_cfg = [
    ((-29, 538), 500, 100), ((-26, 417), 400, 100), ((-5, 448), 400, 100), ((-5, 260), 250, 50), ((-34, 538), 500, 100),
    ((-25, 513), 400, 100), ((-15, 257), 200, 50), ((-7.4, 274.5), 250, 50), ((-15, 266), 250, 50), ((-28, 489), 400, 100),
    ((-22.5, 544), 500, 100), ((-29, 533), 500, 100), ((-15.6, 541), 500, 100), ((-20, 402), 300, 100), ((-29, 538), 500, 100),
]

FW, FH = 706, 361
col_left = [33, 172, 315, 462, 599]
AW = 82
row_top = [10, 122, 236]
row_bot = [95, 208.5, 321.7]

fig = plt.figure(figsize=(FW / 100, FH / 100), dpi=100)

def style_axis(a):
    for s in a.spines.values():
        s.set_color(SPINE)
        s.set_linewidth(1.3)
    a.tick_params(axis="both", which="both", direction="out", length=2, width=0.5,
                  color=TICKC, labelcolor=TICKC, labelsize=4.2, pad=1.5)

xv = np.array(X)
for i in range(15):
    r, c = divmod(i, 5)
    l = col_left[c] / FW
    b = 1 - row_bot[r] / FH
    h = (row_bot[r] - row_top[r]) / FH
    ax = fig.add_axes([l, b, AW / FW, h])
    loss, lo, hi, rank, rsd, srank, ssd = [np.asarray(v, dtype=float) for v in series[i]]

    ax.fill_between(xv, lo, hi, color=ORANGE, alpha=0.22, lw=0)
    ax.plot(xv, loss, color=ORANGE, lw=0.9)
    ylim, t0, t1, st = left_cfg[i]
    ax.set_ylim(*ylim)
    ax.set_yticks(np.arange(t0, t1 + st * 0.01, st))
    ax.set_xlim(-1.5, 53.5)
    ax.set_xticks([0, 20, 40])
    ax.set_title(titles[i], fontsize=5.6, pad=1.2, y=1.0, color="#111111")
    ax.set_xlabel("Millions of frames", fontsize=4.6, labelpad=1.5, color="#111111")
    ax.set_ylabel("Mean squared error", fontsize=4.6, labelpad=1.5, color="#111111")
    style_axis(ax)
    off = ax.yaxis.get_offset_text()
    off.set_fontsize(3.6)
    off.set_color(TICKC)
    off.set_x(-0.07)

    ax2 = ax.twinx()
    ax2.fill_between(xv, rank - rsd, rank + rsd, color=BLUE, alpha=0.22, lw=0)
    ax2.plot(xv, rank, color=BLUE, lw=0.9)
    ax2.fill_between(xv, srank - ssd, srank + ssd, color=GREEN, alpha=0.22, lw=0)
    ax2.plot(xv, srank, color=GREEN, lw=0.9)
    rylim, rt1, rst = right_cfg[i]
    ax2.set_ylim(*rylim)
    ax2.set_yticks(np.arange(0, rt1 + 0.01, rst))
    ax2.set_ylabel("Rank", fontsize=4.6, labelpad=2, color="#111111")
    style_axis(ax2)

handles = [Line2D([], [], color=ORANGE, lw=1.2),
           Line2D([], [], color=BLUE, lw=1.2),
           Line2D([], [], color=GREEN, lw=1.2)]
fig.legend(handles, legend_labels, loc="center", bbox_to_anchor=(353 / FW, 1 - 349 / FH),
           ncol=3, fontsize=6.2, frameon=True, handlelength=2.8, columnspacing=2.2,
           handletextpad=0.8, borderpad=0.45, fancybox=True, edgecolor="#cccccc", framealpha=1)

fig.savefig("out.png", dpi=100)
